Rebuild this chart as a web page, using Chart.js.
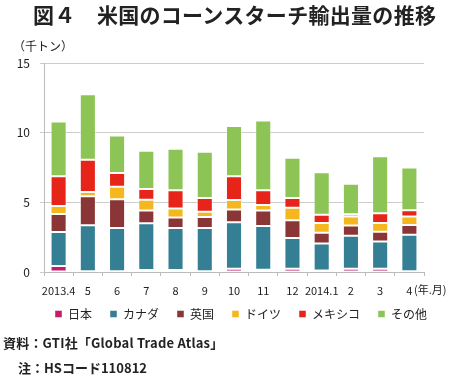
<!DOCTYPE html>
<html><head><meta charset="utf-8">
<script src="https://cdn.jsdelivr.net/npm/chart.js@4"></script>
<style>
html,body{margin:0;padding:0;background:#fff;}
#wrap{position:relative;width:450px;height:378px;overflow:hidden;font-family:"Noto Sans CJK JP","Noto Sans",sans-serif;color:#222;}
#title{position:absolute;left:33px;top:0px;font-size:21px;font-weight:bold;letter-spacing:0.3px;white-space:nowrap;line-height:28px;}
#unit{position:absolute;left:13px;top:38px;font-size:12px;white-space:nowrap;line-height:16px;}
#ym{position:absolute;left:414px;top:281px;font-size:11px;white-space:nowrap;line-height:16px;}
#src{position:absolute;left:3px;top:333px;font-size:13px;font-weight:bold;letter-spacing:0.2px;white-space:nowrap;line-height:20px;}
#note{position:absolute;left:18px;top:358px;font-size:13px;font-weight:bold;white-space:nowrap;line-height:20px;}
canvas{position:absolute;left:0;top:0;}
</style></head>
<body><div id="wrap">
<canvas id="c" width="450" height="340" style="width:450px;height:340px"></canvas>
<div id="title">図４　米国のコーンスターチ輸出量の推移</div>
<div id="unit">（千トン）</div>
<div id="ym">(年.月)</div>
<div id="src">資料：GTI社「Global Trade Atlas」</div>
<div id="note">注：HSコード110812</div>
</div>
<script>
const categories = ["2013.4","5","6","7","8","9","10","11","12","2014.1","2","3","4"];
const japan   = [0.43,0.05,0.05,0.14,0.14,0.05,0.24,0.17,0.24,0.10,0.24,0.24,0.05];
const canada  = [2.44,3.30,3.11,3.36,3.02,3.11,3.33,3.13,2.20,1.95,2.36,1.95,2.63];
const uk      = [1.30,2.08,2.07,0.91,0.75,0.79,0.92,1.11,1.27,0.77,0.73,0.70,0.70];
const germany = [0.56,0.31,0.89,0.77,0.65,0.37,0.67,0.39,0.90,0.70,0.65,0.63,0.60];
const mexico  = [2.14,2.31,0.99,0.78,1.30,0.99,1.71,1.06,0.70,0.58,0.17,0.70,0.46];
const other   = [3.93,4.71,2.68,2.74,2.99,3.32,3.60,5.02,2.89,3.06,2.19,4.08,3.06];
const yTicks  = [0,5,10,15];

const seriesNames = ["日本","カナダ","英国","ドイツ","メキシコ","その他"];
const seriesData = [japan,canada,uk,germany,mexico,other];
const colors = ["#C8196B","#347F93","#8B3636","#F4B81E","#E62419","#8CC556"];

const font = "'Noto Sans CJK JP','Noto Sans',sans-serif";
const legendShift = {
  id: 'legendShift',
  afterLayout(chart) {
    const L = chart.legend;
    if (L) { L.left += 37; L.right += 37; L.top -= 10; L.bottom -= 10; }
  }
};
new Chart(document.getElementById('c'), {
  type: 'bar',
  data: {
    labels: categories,
    datasets: seriesNames.map((n,i)=>({
      label: n, data: seriesData[i], backgroundColor: colors[i],
      borderColor: 'rgba(255,255,255,0.45)', borderWidth: 1, borderSkipped: false,
      categoryPercentage: 1, barPercentage: 0.55
    }))
  },
  plugins: [legendShift],
  options: {
    responsive: false, animation: false, devicePixelRatio: 1,
    layout: { padding: { left: 0, right: 26, top: 63, bottom: 0 } },
    plugins: {
      tooltip: { enabled: false },
      legend: {
        position: 'bottom', align: 'start',
        labels: { boxWidth: 7, boxHeight: 7, padding: 18, color: '#222',
                  font: { family: font, size: 12 } }
      }
    },
    scales: {
      x: {
        stacked: true,
        grid: { offset: true, drawOnChartArea: false, drawTicks: true, tickLength: 4, color: '#bbb' },
        border: { color: '#bbb' },
        ticks: { color: '#222', padding: 8, font: { family: font, size: 11 }, maxRotation: 0, autoSkip: false },
        afterFit: s => { s.height = 28; }
      },
      y: {
        stacked: true, min: 0, max: 15,
        afterBuildTicks: s => { s.ticks = yTicks.map(v=>({value:v})); },
        grid: { color: '#ccc', lineWidth: 1, tickLength: 4, drawTicks: true },
        border: { color: '#bbb' },
        ticks: { color: '#222', padding: 10, font: { family: font, size: 12 } },
        afterFit: s => { s.width = 44; }
      }
    }
  }
});
</script>
</body></html>
